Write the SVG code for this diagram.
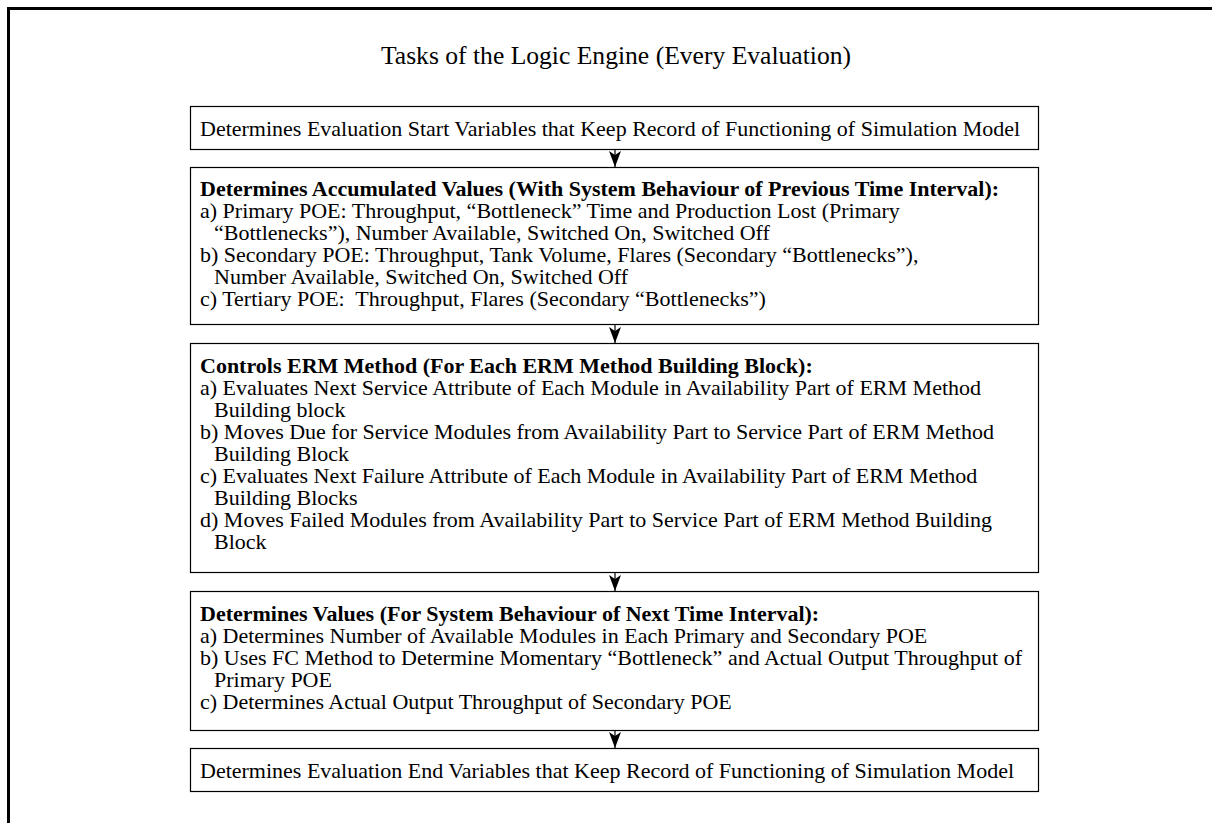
<svg xmlns="http://www.w3.org/2000/svg" width="1212" height="823" viewBox="0 0 1212 823">
<style>
.t{font-family:"Liberation Serif","Times New Roman",serif;font-size:22px;fill:#000}
.b{font-weight:bold}
.title{font-family:"Liberation Serif","Times New Roman",serif;font-size:25.6px;fill:#000}
.box{fill:#fff;stroke:#000;stroke-width:1.2}
.conn{stroke:#000;stroke-width:1.2;fill:none}
</style>
<defs>
<marker id="ah" markerWidth="16" markerHeight="12" refX="16" refY="6" orient="auto" markerUnits="userSpaceOnUse" viewBox="0 0 16 12">
<path d="M0,0 L4,6 L0,12 L16,6 Z" fill="#000"/>
</marker>
</defs>
<rect x="0" y="0" width="1212" height="823" fill="#fff"/>
<g id="frame">
<line x1="7" y1="8.5" x2="1212" y2="8.5" stroke="#000" stroke-width="3"/>
<line x1="8.5" y1="7" x2="8.5" y2="823" stroke="#000" stroke-width="3"/>
</g>
<text class="title" x="616" y="64" text-anchor="middle">Tasks of the Logic Engine (Every Evaluation)</text>
<g id="connectors">
<line class="conn" x1="615" y1="149" x2="615" y2="167" marker-end="url(#ah)"/>
<line class="conn" x1="615" y1="324" x2="615" y2="343" marker-end="url(#ah)"/>
<line class="conn" x1="615" y1="572" x2="615" y2="591" marker-end="url(#ah)"/>
<line class="conn" x1="615" y1="730" x2="615" y2="748" marker-end="url(#ah)"/>
</g>
<g id="n1">
<rect class="box" x="190.5" y="106.5" width="848" height="43"/>
<text class="t" x="200" y="136">Determines Evaluation Start Variables that Keep Record of Functioning of Simulation Model</text>
</g>
<g id="n2">
<rect class="box" x="190.5" y="167.5" width="848" height="157"/>
<text class="t b" x="200" y="196">Determines Accumulated Values (With System Behaviour of Previous Time Interval):</text>
<text class="t" x="200" y="218">a) Primary POE: Throughput, “Bottleneck” Time and Production Lost (Primary</text>
<text class="t" x="214" y="240">“Bottlenecks”), Number Available, Switched On, Switched Off</text>
<text class="t" x="200" y="262">b) Secondary POE: Throughput, Tank Volume, Flares (Secondary “Bottlenecks”),</text>
<text class="t" x="214" y="284">Number Available, Switched On, Switched Off</text>
<text class="t" x="200" y="306" xml:space="preserve">c) Tertiary POE:  Throughput, Flares (Secondary “Bottlenecks”)</text>
</g>
<g id="n3">
<rect class="box" x="190.5" y="343.5" width="848" height="229"/>
<text class="t b" x="200" y="373">Controls ERM Method (For Each ERM Method Building Block):</text>
<text class="t" x="200" y="395">a) Evaluates Next Service Attribute of Each Module in Availability Part of ERM Method</text>
<text class="t" x="214" y="417">Building block</text>
<text class="t" x="200" y="439">b) Moves Due for Service Modules from Availability Part to Service Part of ERM Method</text>
<text class="t" x="214" y="461">Building Block</text>
<text class="t" x="200" y="483">c) Evaluates Next Failure Attribute of Each Module in Availability Part of ERM Method</text>
<text class="t" x="214" y="505">Building Blocks</text>
<text class="t" x="200" y="527">d) Moves Failed Modules from Availability Part to Service Part of ERM Method Building</text>
<text class="t" x="214" y="549">Block</text>
</g>
<g id="n4">
<rect class="box" x="190.5" y="591.5" width="848" height="139"/>
<text class="t b" x="200" y="621">Determines Values (For System Behaviour of Next Time Interval):</text>
<text class="t" x="200" y="643">a) Determines Number of Available Modules in Each Primary and Secondary POE</text>
<text class="t" x="200" y="665">b) Uses FC Method to Determine Momentary “Bottleneck” and Actual Output Throughput of</text>
<text class="t" x="214" y="687">Primary POE</text>
<text class="t" x="200" y="709">c) Determines Actual Output Throughput of Secondary POE</text>
</g>
<g id="n5">
<rect class="box" x="190.5" y="748.5" width="848" height="43"/>
<text class="t" x="200" y="778">Determines Evaluation End Variables that Keep Record of Functioning of Simulation Model</text>
</g>
</svg>
